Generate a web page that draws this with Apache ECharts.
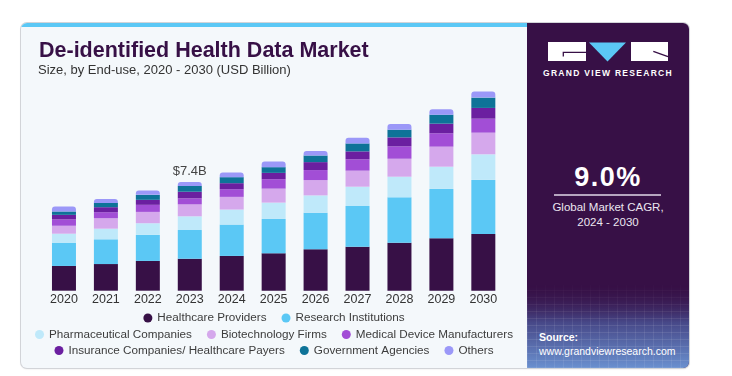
<!DOCTYPE html>
<html>
<head>
<meta charset="utf-8">
<script src="https://cdn.jsdelivr.net/npm/echarts@6/dist/echarts.min.js"></script>
<style>
  html, body { margin: 0; padding: 0; background: #ffffff; }
  body { width: 732px; height: 376px; position: relative; overflow: hidden;
         font-family: "Liberation Sans", Arial, sans-serif; }
  #card { position: absolute; left: 21px; top: 23px; width: 668px; height: 345px;
          background: #f4f8fb; border-radius: 6px; overflow: hidden;
          box-shadow: 0 0 0 1px #d2d4d8, 0 1px 2px rgba(0,0,0,0.12); }
  #strip { position: absolute; left: 0; top: 0; width: 506px; height: 4px;
           background: #5bc8f5; z-index: 2; }
  #chart { position: absolute; left: 0; top: 0; width: 506px; height: 345px; }
  #panel { position: absolute; left: 506px; top: 0; width: 162px; height: 345px;
           background: #371046; color: #ffffff; }
  #panel .grid { position: absolute; left: 0; top: 262px; width: 162px; height: 83px;
           background:
             repeating-linear-gradient(0deg, rgba(255,255,255,0.09) 0 1px, transparent 1px 7px),
             repeating-linear-gradient(90deg, rgba(255,255,255,0.08) 0 1px, transparent 1px 9px),
             linear-gradient(to bottom, #371046 0%, #474888 45%, #6a90cf 100%);
           -webkit-mask-image: linear-gradient(to bottom, rgba(0,0,0,0.1), #000 45%);
           mask-image: linear-gradient(to bottom, rgba(0,0,0,0.1), #000 45%); }
  #panel .t { position: absolute; left: 0; width: 162px; text-align: center; white-space: nowrap; }
  #logo { position: absolute; left: 0; top: 0; }
  .brand { top: 45px; line-height: 10px; font-size: 8.5px; font-weight: bold; letter-spacing: 1.3px; }
  .cagr { top: 140px; line-height: 28px; font-size: 27px; font-weight: bold; letter-spacing: 1.5px; }
  .rule { position: absolute; left: 27px; top: 171px; width: 107px; height: 1.5px;
          background: rgba(225,215,232,0.75); }
  .sub { font-size: 11.5px; line-height: 15px; color: #ece6f0; }
  .src { position: absolute; left: 12px; white-space: nowrap; font-size: 10.5px; line-height: 13px; }
</style>
</head>
<body>
<div id="card">
  <div id="strip"></div>
  <div id="chart"></div>
  <div id="panel">
    <div class="grid"></div>
    <svg id="logo" width="162" height="45">
      <rect x="21" y="19" width="38" height="19" fill="#ffffff"/>
      <polyline points="59,29.3 36.3,29.3 36.3,33.5" fill="none" stroke="#371046" stroke-width="1.3"/>
      <polygon points="62,19.5 99,19.5 80.5,38.5" fill="#5bc8f5"/>
      <rect x="104" y="19" width="37" height="19" fill="#ffffff"/>
      <line x1="126.3" y1="28.3" x2="141" y2="33.7" stroke="#371046" stroke-width="1.3"/>
    </svg>
    <div class="t brand">GRAND VIEW RESEARCH</div>
    <div class="t cagr">9.0%</div>
    <div class="rule"></div>
    <div class="t sub" style="top:177px">Global Market CAGR,</div>
    <div class="t sub" style="top:192px">2024 - 2030</div>
    <div class="src" style="top:308px;font-weight:bold">Source:</div>
    <div class="src" style="top:321.5px">www.grandviewresearch.com</div>
  </div>
</div>
<script>
// values, USD billion
var years = ["2020", "2021", "2022", "2023", "2024", "2025", "2026", "2027", "2028", "2029", "2030"];
var healthcareProviders = [1.68, 1.81, 2.02, 2.17, 2.36, 2.54, 2.81, 2.99, 3.26, 3.56, 3.85];
var researchInstitutions = [1.56, 1.68, 1.77, 1.95, 2.13, 2.33, 2.48, 2.76, 3.08, 3.35, 3.67];
var pharmaCompanies = [0.63, 0.72, 0.79, 0.93, 1.02, 1.11, 1.18, 1.31, 1.40, 1.51, 1.74];
var biotechFirms = [0.54, 0.71, 0.77, 0.81, 0.86, 0.95, 1.04, 1.09, 1.22, 1.36, 1.47];
var deviceMakers = [0.43, 0.41, 0.48, 0.41, 0.52, 0.64, 0.68, 0.77, 0.84, 0.91, 0.95];
var insurancePayers = [0.31, 0.34, 0.34, 0.45, 0.41, 0.43, 0.54, 0.54, 0.61, 0.65, 0.73];
var governmentAgencies = [0.23, 0.29, 0.34, 0.39, 0.41, 0.39, 0.45, 0.54, 0.52, 0.61, 0.70];
var others = [0.34, 0.27, 0.29, 0.27, 0.31, 0.38, 0.31, 0.38, 0.39, 0.37, 0.41];
var labelledYear = "2023";

var FONT = '"Liberation Sans", Arial, sans-serif';

var segments = [
  { name: "Healthcare Providers", data: healthcareProviders, color: "#371046" },
  { name: "Research Institutions", data: researchInstitutions, color: "#5bc8f5" },
  { name: "Pharmaceutical Companies", data: pharmaCompanies, color: "#bfe9fa" },
  { name: "Biotechnology Firms", data: biotechFirms, color: "#d5a8ec" },
  { name: "Medical Device Manufacturers", data: deviceMakers, color: "#a24ed6" },
  { name: "Insurance Companies/ Healthcare Payers", data: insurancePayers, color: "#6b1fa0" },
  { name: "Government Agencies", data: governmentAgencies, color: "#0e7398" },
  { name: "Others", data: others, color: "#9b98f8" }
];

function totalAt(i) {
  var s = 0;
  segments.forEach(function (seg) { s += seg.data[i]; });
  return s;
}

var series = segments.map(function (seg, k) {
  var last = k === segments.length - 1;
  return {
    name: seg.name,
    type: "bar",
    stack: "total",
    barWidth: 24,
    itemStyle: { color: seg.color, borderRadius: last ? [3, 3, 0, 0] : 0 },
    data: seg.data.map(function (v, i) {
      if (last && years[i] === labelledYear) {
        return {
          value: v,
          label: {
            show: true,
            position: "top",
            distance: 4,
            color: "#444444",
            fontSize: 13,
            fontFamily: FONT,
            formatter: function () { return "$" + totalAt(i).toFixed(1) + "B"; }
          }
        };
      }
      return v;
    })
  };
});

function legendRow(names, top) {
  return {
    data: names,
    top: top,
    left: "center",
    icon: "circle",
    itemWidth: 9,
    itemHeight: 9,
    itemGap: 15,
    selectedMode: false,
    textStyle: { color: "#3c3c3c", fontSize: 11.7, fontFamily: FONT }
  };
}

var chart = echarts.init(document.getElementById("chart"), null, { renderer: "canvas" });
chart.setOption({
  animation: false,
  textStyle: { fontFamily: FONT },
  graphic: [
    {
      type: "text", left: 18, top: 17,
      style: { text: "De-identified Health Data Market", fill: "#371046",
               font: "bold 21.5px " + FONT }
    },
    {
      type: "text", left: 17, top: 41,
      style: { text: "Size, by End-use, 2020 - 2030 (USD Billion)", fill: "#333333",
               font: "13px " + FONT }
    }
  ],
  legend: [
    legendRow(segments.slice(0, 2).map(function (s) { return s.name; }), 284),
    legendRow(segments.slice(2, 5).map(function (s) { return s.name; }), 300.5),
    legendRow(segments.slice(5).map(function (s) { return s.name; }), 316.5)
  ],
  grid: { left: 22, width: 461.3, top: 61.5, height: 206.2 },
  xAxis: {
    type: "category",
    data: years,
    axisLine: { show: false },
    axisTick: { show: false },
    axisLabel: { color: "#333333", fontSize: 12.5, margin: 2, fontFamily: FONT }
  },
  yAxis: {
    type: "value",
    min: 0,
    max: 14,
    show: false,
    splitLine: { show: false }
  },
  series: series
});
</script>
</body>
</html>
